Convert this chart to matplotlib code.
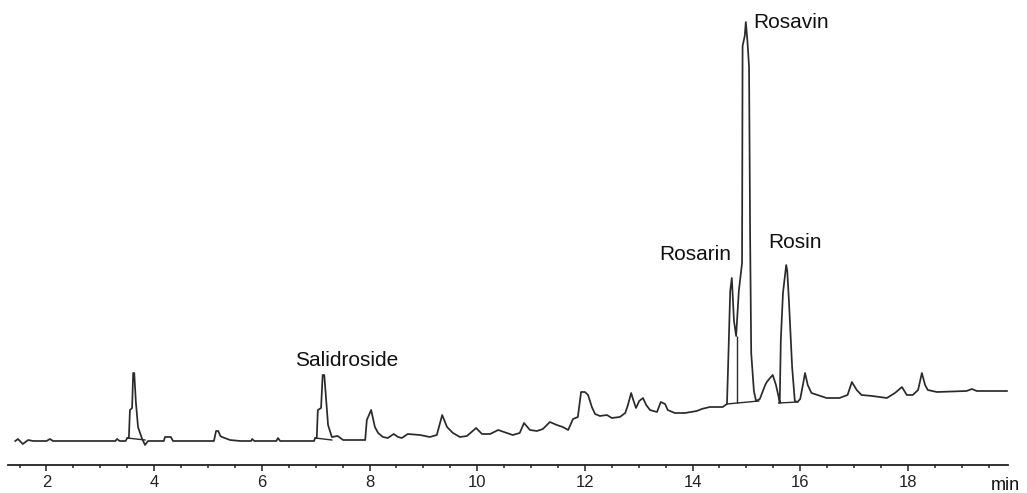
import numpy as np
import matplotlib
matplotlib.use("Agg")
import matplotlib.pyplot as plt

plt.rcParams['font.family'] = ['Liberation Sans', 'DejaVu Sans']

# chromatogram trace: retention time (min) and signal (arbitrary units)
time_min = [1.42, 1.47, 1.56, 1.66, 1.75, 2.00, 2.065, 2.12, 3.28, 3.31, 3.36, 3.47, 3.50, 3.53,
            3.55, 3.59, 3.61, 3.63, 3.66, 3.70, 3.77, 3.83, 3.885,
            4.18, 4.20, 4.31, 4.35, 5.11, 5.15, 5.19, 5.23, 5.26, 5.41, 5.60, 5.80, 5.82, 5.86,
            6.27, 6.30, 6.34, 6.97, 6.99, 7.02, 7.04, 7.10, 7.13, 7.16, 7.19, 7.23, 7.30, 7.41, 7.51,
            7.92, 7.95, 8.03, 8.10, 8.16, 8.25, 8.34, 8.45, 8.53, 8.60, 8.71, 8.94, 9.12, 9.25,
            9.35, 9.44, 9.55, 9.68, 9.81, 9.98, 10.09, 10.24, 10.39, 10.55, 10.66, 10.79, 10.87,
            10.98, 11.11, 11.22, 11.35, 11.48, 11.59, 11.69, 11.78, 11.87, 11.93, 12.00, 12.06,
            12.13, 12.19, 12.28, 12.41, 12.50, 12.65, 12.75, 12.80, 12.86, 12.90, 12.95, 13.01,
            13.08, 13.14, 13.21, 13.34, 13.41, 13.49, 13.54, 13.67, 13.86, 14.08, 14.17, 14.32,
            14.56, 14.64, 14.66, 14.70, 14.73, 14.77, 14.81, 14.86, 14.92, 14.93, 14.97, 14.99,
            15.02, 15.05, 15.07, 15.09, 15.14, 15.18, 15.25, 15.35, 15.38, 15.44, 15.49, 15.55,
            15.60, 15.62, 15.64, 15.68, 15.74, 15.76, 15.79, 15.85, 15.90, 15.95, 16.00, 16.05,
            16.09, 16.14, 16.21, 16.32, 16.49, 16.73, 16.88, 16.96, 17.05, 17.14, 17.34, 17.61,
            17.76, 17.89, 17.98, 18.09, 18.19, 18.26, 18.32, 18.37, 18.54, 19.09, 19.19, 19.28,
            19.84]
signal = [0, 2, -3, 1, 0, 0, 2, 0, 0, 2, 0, 0, 3, 3,
          31, 33, 68, 68, 39, 14, 3, -4, 0,
          0, 4, 4, 0, 0, 10, 10, 5, 4, 1, 0, 0, 2, 0,
          0, 3, 0, 0, 3, 3, 31, 33, 66, 66, 44, 16, 4, 5, 1,
          1, 21, 31, 14, 8, 4, 3, 7, 4, 3, 7, 6, 4, 6,
          26, 14, 8, 4, 5, 13, 7, 7, 11, 8, 6, 8, 18,
          11, 10, 12, 19, 16, 14, 11, 22, 24, 49, 49, 46,
          34, 27, 25, 26, 23, 24, 28, 36, 48, 41, 33, 40,
          43, 36, 31, 29, 39, 37, 31, 28, 28, 30, 32, 34,
          34, 37, 73, 150, 163, 120, 105, 150, 178, 395, 405, 419,
          400, 374, 204, 88, 50, 40, 42, 56, 59, 63, 66, 56,
          44, 38, 101, 148, 176, 170, 141, 74, 40, 39, 42, 56,
          68, 56, 48, 46, 43, 43, 46, 59, 51, 46, 45, 43,
          48, 54, 46, 46, 51, 68, 56, 51, 49, 50, 52, 50,
          50]

# integration baselines and drop lines drawn under the peaks
base_start_t = [3.50, 6.99, 14.64, 15.60]
base_start_s = [3, 3, 37, 38]
base_end_t = [3.83, 7.30, 15.23, 15.95]
base_end_s = [1, 1, 40, 39]
drop_t = [14.83]
drop_lo = [38]
drop_hi = [105]

peak_names = ['Salidroside', 'Rosarin', 'Rosavin', 'Rosin']
label_t = [7.57, 14.05, 15.12, 15.90]
label_s = [80, 186, 418, 198]

fig = plt.figure(figsize=(10.27, 4.93), dpi=100)
ax = fig.add_axes([8 / 1027, 28 / 493, 1000 / 1027, 465 / 493])
line_col = '#2a2a2a'

ax.plot(time_min, signal, color=line_col, lw=1.25)
for t0, s0, t1, s1 in zip(base_start_t, base_start_s, base_end_t, base_end_s):
    ax.plot([t0, t1], [s0, s1], color=line_col, lw=1.0)
ax.vlines(drop_t, drop_lo, drop_hi, color=line_col, lw=1.0)

for name, t, s in zip(peak_names, label_t, label_s):
    ha = 'left' if name == 'Rosavin' else 'center'
    ax.text(t, s, name, ha=ha, va='center', fontsize=15, color='#111111')

ax.set_xlim(1.285, 19.86)
ax.set_ylim(-24, 441)
ax.set_xticks(np.arange(2, 19, 2))
ax.set_xticks(np.arange(1.5, 19.8, 0.5), minor=True)
ax.tick_params(axis='x', which='major', direction='out', length=4, width=1.1,
               labelsize=12, pad=3, colors='#222222')
ax.tick_params(axis='x', which='minor', direction='out', length=2, width=1.1, colors='#222222')
ax.set_yticks([])
for side in ['left', 'right', 'top']:
    ax.spines[side].set_visible(False)
ax.spines['bottom'].set_linewidth(1.3)
ax.spines['bottom'].set_color('#222222')
ax.patch.set_visible(False)

fig.text(1020 / 1027, 1 - 485 / 493, 'min', ha='right', va='center', fontsize=13, color='#111111')

fig.savefig('out.png', dpi=100)
